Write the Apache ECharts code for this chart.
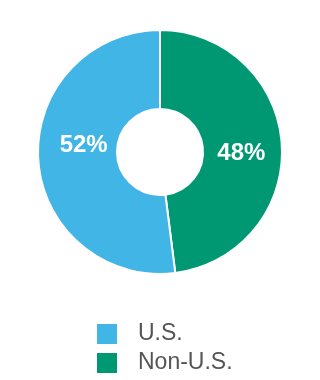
<!DOCTYPE html>
<html><head><meta charset="utf-8">
<script src="https://cdn.jsdelivr.net/npm/echarts@6/dist/echarts.min.js"></script>
<style>html,body{margin:0;padding:0;background:#fff}#c{width:320px;height:380px}</style>
</head><body><div id="c"></div>
<script>
const categories = ['Non-U.S.', 'U.S.'];
const values = [48, 52];
const legendOrder = ['U.S.', 'Non-U.S.'];
const colors = {'Non-U.S.': '#009872', 'U.S.': '#41b6e6'};
const labelOffsets = {'Non-U.S.': [-4, 7], 'U.S.': [9, -12]};

const chart = echarts.init(document.getElementById('c'));
chart.setOption({
  animation: false,
  legend: {
    orient: 'vertical', left: 95, top: 322, padding: 0, height: 58,
    data: legendOrder,
    icon: 'rect', itemWidth: 22, itemHeight: 22, itemGap: 5,
    textStyle: {fontFamily: 'Liberation Sans', fontSize: 23, color: '#555', padding: [0,0,0,15]}
  },
  series: [{
    type: 'pie',
    center: [160, 152], radius: [43, 122],
    startAngle: 90, clockwise: true,
    itemStyle: {borderColor: '#fff', borderWidth: 2},
    label: {position: 'inside', formatter: '{c}%', color: '#fff', fontFamily: 'Liberation Sans', fontWeight: 'bold', fontSize: 24},
    labelLine: {show: false},
    emphasis: {disabled: true},
    data: categories.map((n, i) => ({name: n, value: values[i], itemStyle: {color: colors[n]}, label: {offset: labelOffsets[n]}}))
  }]
});
</script></body></html>
